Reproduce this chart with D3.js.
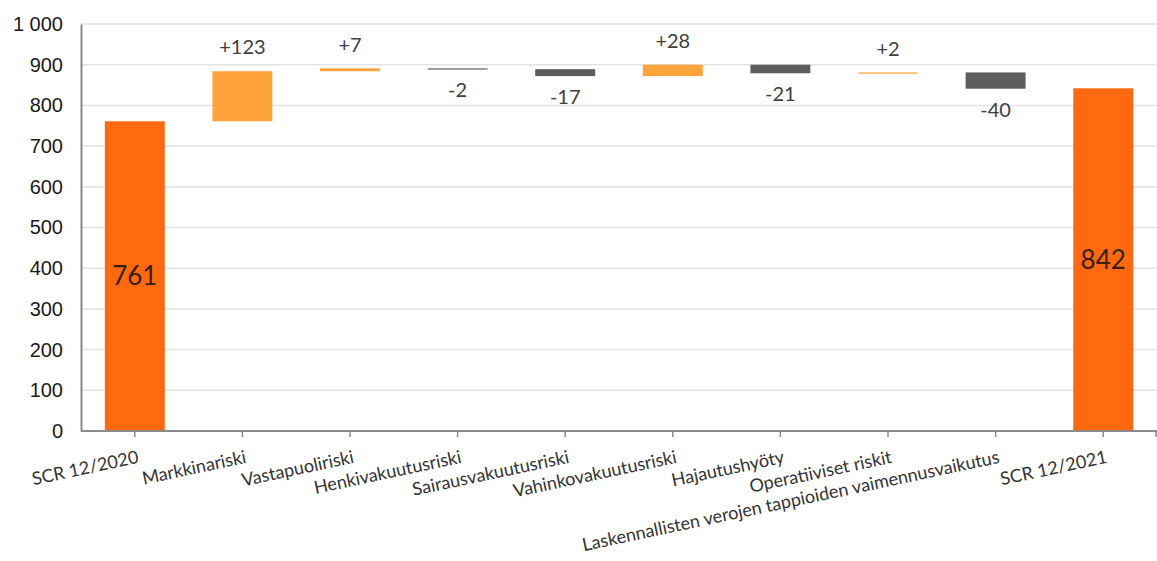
<!DOCTYPE html>
<html><head><meta charset="utf-8">
<script src="https://cdn.jsdelivr.net/npm/d3@7"></script>
<style>body{margin:0;background:#fff;} svg{display:block;}</style>
</head><body>
<svg id="c" width="1157" height="561"></svg>
<script>
const categories = ["SCR 12/2020","Markkinariski","Vastapuoliriski","Henkivakuutusriski","Sairausvakuutusriski","Vahinkovakuutusriski","Hajautushyöty","Operatiiviset riskit","Laskennallisten verojen tappioiden vaimennusvaikutus","SCR 12/2021"];
const values = [761, 123, 7, -2, -17, 28, -21, 2, -40, 842];
const kinds = ["total","delta","delta","delta","delta","delta","delta","delta","delta","total"];
const labels = ["761","+123","+7","-2","-17","+28","-21","+2","-40","842"];
const yTicks = [0,100,200,300,400,500,600,700,800,900,1000];

(function(){
const svg = d3.select("#c");
const mL = 81, mR = 1157, mT = 24, mB = 431;
const x = d3.scaleBand().domain(categories).range([mL, mR]).paddingInner(0.443).paddingOuter(0.2215);
const y = d3.scaleLinear().domain([0, 1000]).range([mB, mT]);

let run = 0;
const bars = categories.map((c, i) => {
  let y0, y1;
  if (kinds[i] === "total") { y0 = 0; y1 = values[i]; run = values[i]; }
  else { y0 = run; y1 = run + values[i]; run = y1; }
  return {c, i, y0, y1, v: values[i], kind: kinds[i], label: labels[i]};
});

svg.append("g").selectAll("line").data(yTicks.filter(d => d > 0)).join("line")
  .attr("x1", mL).attr("x2", mR).attr("y1", d => y(d)).attr("y2", d => y(d))
  .attr("stroke", "#e3e3e3").attr("stroke-width", 1.5);

const ya = svg.append("g").attr("transform", `translate(${mL},0)`)
  .call(d3.axisLeft(y).tickValues(yTicks).tickSize(0).tickPadding(18)
    .tickFormat(d => d3.format(",")(d).replace(/,/g, " ")));
ya.select(".domain").attr("stroke", "#8a8a8a").attr("stroke-width", 2);
ya.selectAll("text").attr("font-family", "Liberation Sans, Arial, sans-serif").attr("font-size", 20).attr("fill", "#1a1a1a");

const colorOf = d => d.kind === "total" ? "#ff6a10" : (d.v >= 0 ? "#ffa33a" : "#5e5e5e");
svg.append("g").selectAll("rect").data(bars).join("rect")
  .attr("x", d => x(d.c)).attr("width", x.bandwidth())
  .attr("y", d => y(Math.max(d.y0, d.y1)))
  .attr("height", d => Math.max(1.2, Math.abs(y(d.y0) - y(d.y1))))
  .attr("fill", colorOf);

const xa = svg.append("g").attr("transform", `translate(0,${mB})`)
  .call(d3.axisBottom(x).tickSize(6).tickFormat(""));
xa.select(".domain").attr("stroke", "#8a8a8a").attr("stroke-width", 2).attr("d", `M${mL},0H${mR}`);
xa.selectAll(".tick line").attr("stroke", "#8a8a8a").attr("stroke-width", 1.5);
xa.append("line").attr("x1", mR - 1).attr("x2", mR - 1).attr("y1", 0).attr("y2", 6).attr("stroke", "#8a8a8a").attr("stroke-width", 1.5);

svg.append("g").selectAll("text").data(categories).join("text")
  .attr("transform", d => `translate(${x(d) + x.bandwidth()/2 + 2},${mB + 19}) rotate(-12)`)
  .attr("text-anchor", "end").attr("dy", "0.72em")
  .attr("font-family", "Lato, sans-serif").attr("font-size", 18).attr("fill", "#333")
  .text(d => d);

svg.append("g").selectAll("text").data(bars).join("text")
  .attr("x", d => x(d.c) + x.bandwidth()/2)
  .attr("y", d => {
    if (d.kind === "total") return (y(0) + y(d.y1)) / 2;
    return d.v >= 0 ? y(Math.max(d.y0, d.y1)) - 24 : y(Math.min(d.y0, d.y1)) + 21;
  })
  .attr("dy", "0.36em").attr("text-anchor", "middle")
  .attr("font-family", "Lato, sans-serif")
  .attr("font-size", d => d.kind === "total" ? 26 : 20)
  .attr("fill", d => d.kind === "total" ? "#3a2010" : "#404040")
  .text(d => d.label);
})();
</script>
</body></html>
